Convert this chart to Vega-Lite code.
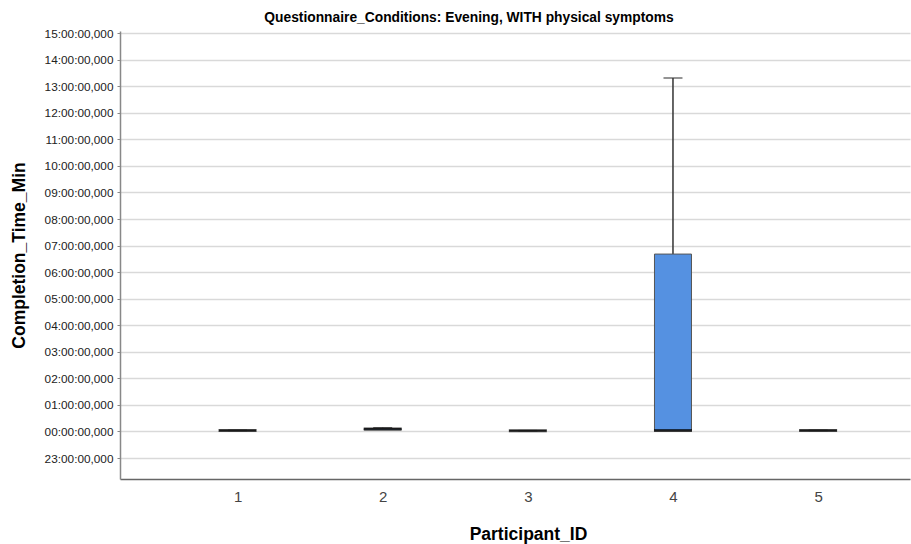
{
  "$schema": "https://vega.github.io/schema/vega-lite/v6.json",
  "autosize": "none",
  "width": 790,
  "height": 448,
  "padding": {"left": 120, "top": 31, "right": 1, "bottom": 65},
  "background": "white",
  "title": {
    "text": "Questionnaire_Conditions: Evening, WITH physical symptoms",
    "font": "Liberation Sans",
    "fontSize": 13.8,
    "fontWeight": "bold",
    "color": "#000000",
    "anchor": "middle",
    "frame": "group",
    "dx": -46,
    "dy": 17,
    "offset": 9,
    "baseline": "alphabetic"
  },
  "data": {
    "values": [
      {"Participant_ID": 1, "min": 0.04, "q1": 0.04, "median": 0.04, "q3": 0.04, "max": 0.04},
      {"Participant_ID": 2, "min": 0.06, "q1": 0.06, "median": 0.09, "q3": 0.11, "max": 0.14},
      {"Participant_ID": 3, "min": 0.03, "q1": 0.03, "median": 0.03, "q3": 0.03, "max": 0.03},
      {"Participant_ID": 4, "min": 0.03, "q1": 0.03, "median": 0.04, "q3": 6.68, "max": 13.31},
      {"Participant_ID": 5, "min": 0.04, "q1": 0.04, "median": 0.04, "q3": 0.04, "max": 0.04}
    ]
  },
  "encoding": {
    "x": {
      "field": "Participant_ID",
      "type": "quantitative",
      "scale": {"domain": [0.2245, 5.5986], "nice": false, "zero": false},
      "axis": {
        "values": [1, 2, 3, 4, 5],
        "format": "d",
        "grid": false,
        "ticks": false,
        "domainColor": "#666666",
        "domainWidth": 1.5,
        "labelFont": "Liberation Sans",
        "labelFontSize": 15,
        "labelColor": "#444444",
        "labelPadding": 10,
        "title": "Participant_ID",
        "titleFont": "Liberation Sans",
        "titleFontSize": 17.5,
        "titleFontWeight": "bold",
        "titleColor": "#000000",
        "titleX": 408,
        "titleY": 60,
        "titleAlign": "center",
        "titleBaseline": "alphabetic",
        "titleAnchor": null
      }
    }
  },
  "layer": [
    {
      "mark": {"type": "rule", "color": "#333333", "strokeWidth": 1.5},
      "encoding": {
        "y": {
          "field": "q3",
          "type": "quantitative",
          "scale": {"domain": [-1.79, 15.08], "nice": false, "zero": false},
          "axis": {
            "values": [-1, 0, 1, 2, 3, 4, 5, 6, 7, 8, 9, 10, 11, 12, 13, 14, 15],
            "tickCount": 20,
            "labelExpr": "((((datum.value % 24) + 24) % 24) < 10 ? '0' : '') + (((datum.value % 24) + 24) % 24) + ':00:00,000'",
            "labelOverlap": false,
            "grid": true,
            "gridColor": "#d9d9d9",
            "gridWidth": 1.5,
            "tickSize": 3,
            "tickColor": "#888888",
            "domainColor": "#888888",
            "domainWidth": 1.5,
            "labelFont": "Liberation Sans",
            "labelFontSize": 11.8,
            "labelColor": "#222222",
            "labelPadding": 4,
            "title": "Completion_Time_Min",
            "titleFont": "Liberation Sans",
            "titleFontSize": 17.5,
            "titleFontWeight": "bold",
            "titleColor": "#000000",
            "titleAngle": -90,
            "titleX": -101,
            "titleY": 224,
            "titleAlign": "center",
            "titleBaseline": "middle",
            "titleAnchor": null
          }
        },
        "y2": {"field": "max"}
      }
    },
    {
      "mark": {"type": "tick", "orient": "horizontal", "size": 19, "thickness": 1.5, "color": "#333333"},
      "encoding": {"y": {"field": "max", "type": "quantitative"}}
    },
    {
      "mark": {"type": "bar", "width": 37, "fill": "#5591e1", "stroke": "#555555", "strokeWidth": 1},
      "encoding": {
        "y": {"field": "q1", "type": "quantitative"},
        "y2": {"field": "q3"}
      }
    },
    {
      "mark": {"type": "tick", "orient": "horizontal", "size": 38, "thickness": 3, "color": "#000000"},
      "encoding": {"y": {"field": "median", "type": "quantitative"}}
    }
  ],
  "config": {"view": {"stroke": null}}
}
